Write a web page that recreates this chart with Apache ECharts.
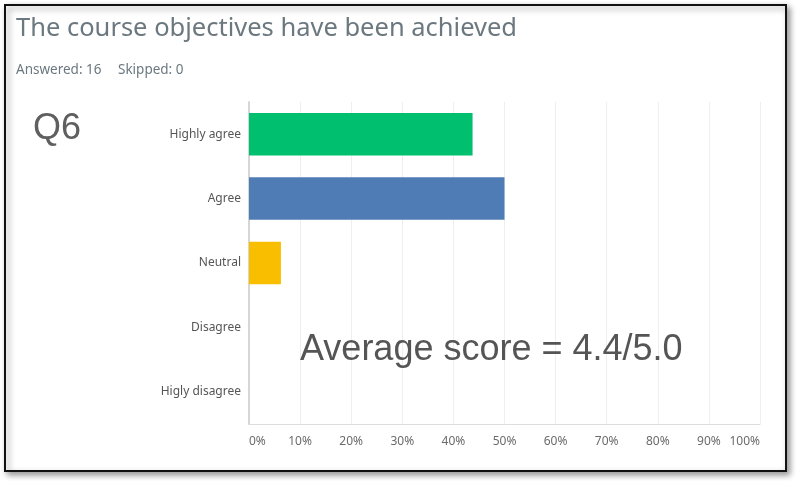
<!DOCTYPE html>
<html>
<head>
<meta charset="utf-8">
<script src="https://cdn.jsdelivr.net/npm/echarts@6/dist/echarts.min.js"></script>
<style>
html,body{margin:0;padding:0;background:#fff;}
#c{width:800px;height:487px;}
</style>
</head>
<body>
<div id="c"></div>
<script>
var categories = ['Highly agree', 'Agree', 'Neutral', 'Disagree', 'Higly disagree'];
var percentValues = [43.75, 50, 6.25, 0, 0];
var barColors = ['#00BF6F', '#507CB6', '#F9BE00', '#6BC8CD', '#FF8B4F'];
var tickValues = [0, 10, 20, 30, 40, 50, 60, 70, 80, 90, 100];

var chart = echarts.init(document.getElementById('c'));
chart.setOption({
  animation: false,
  backgroundColor: '#fff',
  title: [
    {
      text: 'The course objectives have been achieved',
      left: 16, top: 16, padding: 0,
      textStyle: {fontFamily: 'Noto Sans', fontSize: 25.5, fontWeight: 'normal', color: '#6B787F'}
    },
    {
      text: 'Answered: 16',
      left: 16, top: 63, padding: 0,
      textStyle: {fontFamily: 'Noto Sans', fontSize: 13.5, fontWeight: 'normal', color: '#6B787F'}
    },
    {
      text: 'Skipped: 0',
      left: 118, top: 63, padding: 0,
      textStyle: {fontFamily: 'Noto Sans', fontSize: 13.5, fontWeight: 'normal', color: '#6B787F'}
    }
  ],
  graphic: [
    {
      type: 'rect', z: -1,
      shape: {x: 5, y: 5, width: 781, height: 466},
      style: {fill: '#fff', stroke: '#111', lineWidth: 2,
        shadowBlur: 6, shadowOffsetX: 3, shadowOffsetY: 3, shadowColor: 'rgba(0,0,0,0.4)'}
    },
    {
      type: 'text', left: 33, top: 111, z: 10,
      style: {text: 'Q6', font: '36px "Liberation Sans", Arial', fill: '#5F5F5F'}
    },
    {
      type: 'text', left: 300, top: 332, z: 10,
      style: {text: 'Average score = 4.4/5.0', font: '36px "Liberation Sans", Arial', fill: '#555555'}
    }
  ],
  grid: {left: 249, right: 40, top: 102, bottom: 63, containLabel: false},
  xAxis: {
    type: 'value', min: 0, max: 100, interval: 10,
    axisLine: {show: true, lineStyle: {color: '#DDDDDD'}},
    axisTick: {show: false},
    splitLine: {show: true, lineStyle: {color: '#EEEEEE'}},
    axisLabel: {
      formatter: '{value}%', margin: 12, color: '#6B6B6B',
      fontFamily: 'Noto Sans', fontSize: 12,
      alignMinLabel: 'left', alignMaxLabel: 'right'
    }
  },
  yAxis: {
    type: 'category', data: categories, inverse: true,
    axisLine: {show: true, lineStyle: {color: '#D6D6D6', width: 2}},
    axisTick: {show: false},
    axisLabel: {margin: 8, color: '#555555', fontFamily: 'Noto Sans', fontSize: 12}
  },
  series: [{
    type: 'bar',
    data: percentValues.map(function (v, i) { return {value: v, itemStyle: {color: barColors[i]}}; }),
    barWidth: '66%'
  }]
});
</script>
</body>
</html>
